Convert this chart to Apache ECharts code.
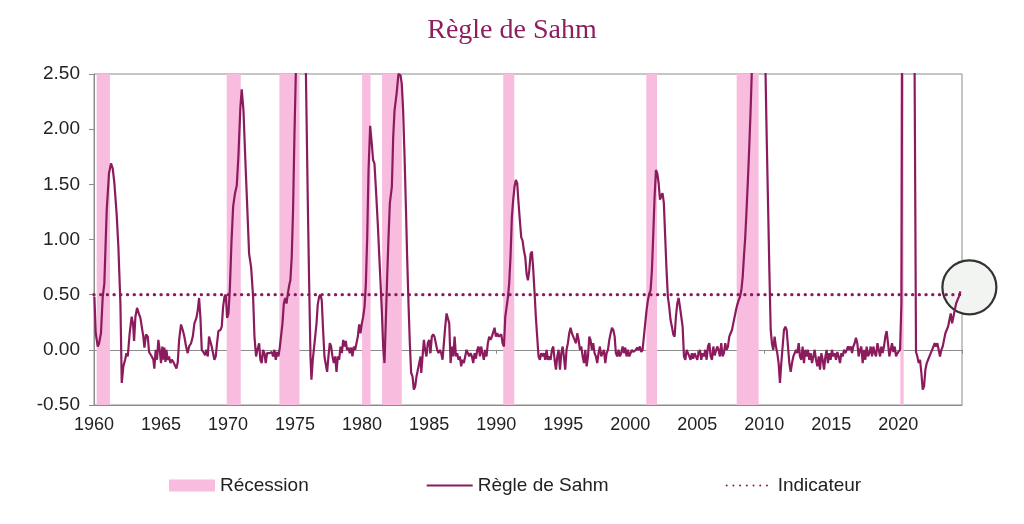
<!DOCTYPE html>
<html>
<head>
<meta charset="utf-8">
<script src="https://cdn.jsdelivr.net/npm/echarts@6/dist/echarts.min.js"></script>
<style>
  html, body { margin: 0; padding: 0; background: #fff; }
  #chart { width: 1024px; height: 524px; }
</style>
</head>
<body>
<div id="chart"></div>
<script>
// recession periods (decimal years)
const recStart = [1960.2, 1969.9, 1973.83, 1980.0, 1981.49, 1990.53, 2001.2, 2007.94, 2020.15];
const recEnd = [1961.19, 1970.95, 1975.33, 1980.63, 1982.96, 1991.35, 2002.0, 2009.58, 2020.4];

const threshold = 0.5;
const yTicks = { min: -0.5, max: 2.5, step: 0.5 };
const xTicks = { min: 1960, max: 2024.75, step: 5 };

// Sahm rule indicator, [decimal year, value]
const sahm = [
  [1960.03,0.48],[1960.13,0.15],[1960.28,0.03],[1960.38,0.06],[1960.52,0.15],[1960.65,0.48],[1960.77,0.60],[1960.95,1.27],
  [1961.12,1.60],[1961.27,1.69],[1961.40,1.64],[1961.52,1.51],[1961.69,1.23],[1961.82,0.93],[1961.97,0.42],[1962.07,-0.30],
  [1962.19,-0.15],[1962.32,-0.09],[1962.42,-0.03],[1962.52,-0.06],[1962.66,0.15],[1962.81,0.30],[1962.91,0.24],[1962.99,0.08],
  [1963.09,0.30],[1963.21,0.38],[1963.34,0.33],[1963.46,0.29],[1963.56,0.30],[1963.68,0.12],[1963.76,0.02],[1963.88,0.14],
  [1964.01,0.12],[1964.11,-0.02],[1964.21,-0.03],[1964.31,-0.06],[1964.43,-0.09],[1964.50,-0.17],[1964.60,0.00],[1964.70,-0.09],
  [1964.80,0.09],[1964.90,0.00],[1965.00,-0.12],[1965.10,0.03],[1965.18,-0.09],[1965.25,0.02],[1965.33,-0.11],[1965.40,0.00],
  [1965.50,-0.09],[1965.60,-0.06],[1965.70,-0.12],[1965.80,-0.09],[1965.92,-0.11],[1966.05,-0.12],[1966.15,-0.17],[1966.25,-0.11],
  [1966.35,0.09],[1966.49,0.23],[1966.62,0.18],[1966.74,0.12],[1966.87,0.03],[1966.99,-0.03],[1967.09,0.03],[1967.24,0.06],
  [1967.37,0.12],[1967.49,0.24],[1967.64,0.29],[1967.74,0.36],[1967.84,0.47],[1967.94,0.29],[1968.04,0.00],[1968.16,-0.02],
  [1968.29,-0.05],[1968.38,0.00],[1968.49,-0.06],[1968.58,0.12],[1968.68,0.11],[1968.78,0.03],[1968.88,-0.03],[1968.98,-0.09],
  [1969.08,-0.06],[1969.18,0.06],[1969.28,0.17],[1969.43,0.18],[1969.53,0.21],[1969.63,0.39],[1969.73,0.48],[1969.83,0.50],
  [1969.93,0.29],[1970.03,0.33],[1970.13,0.54],[1970.25,0.96],[1970.38,1.30],[1970.52,1.42],[1970.65,1.49],[1970.77,1.75],
  [1970.92,2.20],[1971.02,2.36],[1971.15,2.17],[1971.27,1.78],[1971.42,1.33],[1971.57,0.87],[1971.72,0.75],[1971.87,0.48],
  [1971.97,0.12],[1972.09,-0.06],[1972.19,0.00],[1972.32,0.06],[1972.41,-0.09],[1972.51,-0.12],[1972.61,0.00],[1972.71,-0.03],
  [1972.81,-0.12],[1972.91,-0.03],
  [1973.11,-0.03],[1973.26,-0.02],[1973.36,-0.06],[1973.46,0.00],[1973.56,-0.09],[1973.66,-0.02],[1973.76,-0.06],[1973.86,0.02],
  [1973.96,0.03],[1974.06,0.24],[1974.16,0.42],[1974.26,0.47],[1974.36,0.42],[1974.46,0.51],[1974.57,0.59],[1974.65,0.63],
  [1974.75,0.84],[1974.85,1.27],[1974.95,1.93],[1975.2,3.3],[1975.45,3.9],[1975.7,3.4],[1975.95,1.33],[1976.05,0.60],
  [1976.15,-0.06],[1976.22,-0.27],[1976.32,-0.09],[1976.40,-0.09],[1976.50,0.12],[1976.60,0.24],[1976.69,0.41],[1976.79,0.48],
  [1976.89,0.50],[1976.99,0.45],[1977.09,0.18],[1977.19,-0.06],[1977.29,-0.06],[1977.39,-0.20],[1977.49,-0.06],[1977.59,0.06],
  [1977.69,0.03],[1977.79,-0.06],[1977.89,-0.12],[1977.99,-0.06],[1978.09,-0.20],[1978.19,-0.06],[1978.29,-0.09],[1978.39,0.03],
  [1978.49,-0.03],[1978.59,0.09],[1978.68,0.03],[1978.78,0.08],[1978.88,0.00],[1978.98,0.02],[1979.08,-0.03],[1979.18,0.02],
  [1979.28,-0.06],[1979.38,0.03],[1979.48,0.00],[1979.58,0.06],[1979.68,0.12],[1979.78,0.23],[1979.88,0.15],[1979.98,0.24],
  [1980.08,0.30],[1980.18,0.39],[1980.28,0.60],[1980.38,1.02],[1980.48,1.63],[1980.60,2.03],[1980.72,1.87],[1980.82,1.72],
  [1980.92,1.69],[1981.02,1.48],[1981.17,1.14],[1981.32,0.75],[1981.47,0.36],[1981.57,0.03],[1981.67,-0.12],[1981.77,0.27],
  [1981.87,0.66],[1981.97,1.02],[1982.07,1.33],[1982.22,1.48],[1982.32,1.93],[1982.42,2.17],[1982.57,2.32],[1982.71,2.50],
  [1982.86,2.49],[1982.96,2.41],[1983.06,2.17],[1983.16,1.78],[1983.26,1.33],[1983.36,0.84],[1983.46,0.42],[1983.56,0.06],
  [1983.66,-0.21],[1983.76,-0.24],[1983.86,-0.36],[1983.96,-0.33],[1984.06,-0.24],[1984.16,-0.18],[1984.26,-0.12],[1984.36,-0.06],
  [1984.41,-0.21],[1984.51,-0.06],[1984.61,0.09],[1984.70,0.00],[1984.80,-0.06],[1984.90,0.06],[1985.00,0.09],[1985.10,-0.03],
  [1985.20,0.12],[1985.30,0.14],[1985.40,0.12],[1985.50,0.12],[1985.60,0.00],[1985.70,-0.03],[1985.80,0.00],[1985.90,-0.03],
  [1986.00,-0.09],
  [1986.20,0.21],[1986.30,0.33],[1986.40,0.32],[1986.50,0.24],[1986.60,-0.12],[1986.70,0.03],[1986.80,-0.06],[1986.90,0.12],
  [1987.00,-0.06],[1987.09,-0.03],[1987.19,-0.09],[1987.29,-0.06],[1987.39,-0.15],[1987.49,-0.09],[1987.59,-0.12],[1987.69,-0.06],
  [1987.79,0.00],[1987.89,-0.03],[1987.99,-0.06],[1988.09,-0.03],[1988.19,-0.06],[1988.29,-0.12],[1988.39,-0.03],[1988.49,-0.08],
  [1988.59,0.00],[1988.69,0.03],[1988.79,-0.06],[1988.88,0.03],[1988.98,-0.03],[1989.08,-0.09],[1989.18,0.00],[1989.28,-0.06],
  [1989.38,0.06],[1989.48,0.12],[1989.58,0.09],[1989.68,0.12],[1989.78,0.12],[1989.88,0.20],[1989.98,0.12],[1990.08,0.15],
  [1990.18,0.12],[1990.28,0.12],[1990.38,0.14],[1990.48,0.06],[1990.58,0.03],[1990.68,0.30],[1990.78,0.39],[1990.88,0.48],
  [1990.97,0.60],[1991.07,0.84],[1991.17,1.20],[1991.27,1.36],[1991.37,1.48],[1991.47,1.54],[1991.57,1.51],[1991.67,1.33],
  [1991.77,1.17],[1991.87,1.02],[1991.97,0.99],[1992.07,0.90],[1992.17,0.84],[1992.27,0.69],[1992.37,0.63],[1992.47,0.72],
  [1992.57,0.87],[1992.67,0.89],[1992.77,0.72],[1992.87,0.51],[1992.96,0.30],[1993.06,0.12],[1993.16,-0.06],[1993.26,-0.09],
  [1993.36,-0.03],[1993.46,-0.06],[1993.56,-0.03],[1993.66,-0.09],[1993.76,0.00],[1993.86,-0.09],[1993.96,-0.06],[1994.06,-0.09],
  [1994.16,0.00],[1994.26,0.03],[1994.36,-0.09],[1994.46,-0.18],[1994.56,-0.06],[1994.66,0.00],[1994.76,-0.18],[1994.86,-0.03],
  [1994.96,0.03],[1995.05,-0.06],[1995.15,-0.18],[1995.25,0.00],[1995.35,0.06],[1995.45,0.15],[1995.55,0.20],[1995.65,0.15],
  [1995.75,0.12],[1995.85,0.09],[1995.95,0.06],[1996.05,0.15],[1996.15,0.09],[1996.25,0.00],[1996.35,0.03],[1996.45,-0.06],
  [1996.55,-0.12],[1996.65,0.00],[1996.75,-0.15],[1996.85,-0.06],[1996.95,0.12],[1997.04,0.09],[1997.14,0.00],[1997.24,0.06],
  [1997.34,-0.03],[1997.44,-0.06],[1997.54,-0.12],[1997.64,-0.03],[1997.74,0.03],[1997.84,-0.06],[1997.94,-0.03],[1998.04,0.00],
  [1998.14,-0.12],[1998.24,-0.03],[1998.34,0.00],[1998.44,0.09],[1998.54,0.15],[1998.64,0.20],[1998.74,0.18],[1998.84,0.12],
  [1998.93,-0.03],[1999.03,-0.06],[1999.13,0.00],[1999.23,-0.06],[1999.33,-0.03],
  [1999.43,0.03],[1999.53,-0.03],[1999.63,0.02],[1999.73,-0.06],[1999.83,0.00],[1999.93,-0.06],[2000.03,-0.03],[2000.13,0.00],
  [2000.23,-0.02],[2000.33,-0.03],[2000.42,0.00],[2000.52,0.02],[2000.62,0.00],[2000.72,0.03],[2000.82,-0.02],[2000.92,0.00],
  [2001.02,0.12],[2001.12,0.24],[2001.22,0.36],[2001.32,0.45],[2001.42,0.51],[2001.52,0.54],[2001.62,0.72],[2001.72,1.05],
  [2001.82,1.39],[2001.92,1.63],[2002.02,1.60],[2002.12,1.51],[2002.22,1.36],[2002.32,1.40],[2002.41,1.42],[2002.51,1.33],
  [2002.61,1.02],[2002.71,0.72],[2002.81,0.48],[2002.91,0.39],[2003.01,0.27],[2003.11,0.21],[2003.21,0.14],[2003.31,0.12],
  [2003.41,0.30],[2003.51,0.42],[2003.61,0.47],[2003.71,0.39],[2003.81,0.30],[2003.91,0.21],[2004.01,-0.06],[2004.11,-0.09],
  [2004.21,0.00],[2004.31,-0.03],[2004.41,-0.06],[2004.50,-0.09],[2004.60,-0.03],[2004.70,-0.08],[2004.80,-0.03],[2004.90,-0.06],
  [2005.00,-0.09],[2005.10,-0.03],[2005.20,0.00],[2005.30,-0.09],[2005.40,-0.03],[2005.50,-0.06],[2005.60,0.00],[2005.70,-0.09],
  [2005.80,0.03],[2005.90,0.06],[2006.00,-0.06],[2006.10,-0.09],[2006.20,0.03],[2006.30,-0.05],[2006.40,-0.06],[2006.49,0.03],
  [2006.59,0.00],[2006.69,-0.06],[2006.79,0.06],[2006.89,-0.06],[2006.99,-0.03],[2007.09,0.06],[2007.19,0.00],[2007.29,0.03],
  [2007.39,0.12],[2007.49,0.15],[2007.59,0.18],[2007.69,0.24],[2007.79,0.30],[2007.89,0.36],[2007.99,0.41],[2008.09,0.45],
  [2008.19,0.48],[2008.29,0.54],[2008.39,0.66],[2008.48,0.84],[2008.58,1.02],[2008.68,1.27],[2008.78,1.54],[2008.88,1.84],
  [2008.98,2.17],[2009.3,3.4],[2009.6,4.0],[2009.9,3.8],[2010.18,1.93],[2010.28,1.33],[2010.38,0.72],[2010.48,0.18],
  [2010.57,0.06],[2010.67,0.00],[2010.77,0.12],[2010.87,0.03],[2010.97,-0.03],[2011.07,-0.12],[2011.17,-0.30],[2011.27,-0.12],
  [2011.37,0.03],[2011.47,0.18],[2011.57,0.21],[2011.67,0.18],[2011.77,0.03],[2011.87,-0.12],[2011.97,-0.20],[2012.07,-0.12],
  [2012.17,-0.06],[2012.27,-0.03],[2012.37,0.00],[2012.46,-0.03],
  [2012.57,0.06],[2012.66,-0.06],[2012.76,-0.09],[2012.86,0.03],[2012.96,-0.12],[2013.06,0.00],[2013.16,-0.06],[2013.26,0.00],
  [2013.36,-0.09],[2013.46,-0.03],[2013.56,-0.12],[2013.66,-0.06],[2013.76,0.00],[2013.86,-0.09],[2013.96,-0.15],[2014.06,-0.06],
  [2014.16,-0.18],[2014.26,-0.03],[2014.36,-0.09],[2014.46,-0.18],[2014.56,-0.06],[2014.65,0.00],[2014.75,-0.12],[2014.85,-0.03],
  [2014.95,-0.09],[2015.05,0.00],[2015.15,-0.06],[2015.25,-0.03],[2015.35,-0.09],[2015.45,-0.02],[2015.55,-0.06],[2015.65,-0.12],
  [2015.75,-0.03],[2015.85,-0.06],[2015.95,0.00],[2016.05,-0.03],[2016.15,0.00],[2016.25,0.03],[2016.35,0.00],[2016.45,0.03],
  [2016.55,-0.03],[2016.64,0.03],[2016.74,0.06],[2016.84,0.11],[2016.94,0.06],[2017.04,-0.06],[2017.14,0.00],[2017.24,0.03],
  [2017.34,-0.12],[2017.44,0.00],[2017.54,-0.09],[2017.64,0.03],[2017.74,-0.06],[2017.84,-0.03],[2017.94,0.03],[2018.04,-0.06],
  [2018.14,0.03],[2018.24,-0.03],[2018.34,-0.06],[2018.44,0.06],[2018.54,0.00],[2018.64,-0.06],[2018.73,0.03],[2018.83,-0.03],
  [2018.93,0.03],[2019.03,0.12],[2019.13,0.17],[2019.23,0.06],[2019.33,-0.06],[2019.43,0.00],[2019.53,0.06],[2019.63,-0.02],
  [2019.73,0.03],[2019.83,-0.06],[2019.93,-0.03],[2020.03,-0.03],[2020.13,0.00],
  [2020.23,0.42],[2020.33,4.7],[2020.45,9.4],[2020.7,8.6],[2020.95,6.7],[2021.15,4.1],[2021.32,-0.02],
  [2021.42,-0.06],[2021.52,-0.12],[2021.62,-0.09],[2021.72,-0.21],[2021.82,-0.36],[2021.92,-0.33],[2022.02,-0.18],[2022.12,-0.12],
  [2022.22,-0.09],[2022.32,-0.06],[2022.42,-0.03],[2022.52,0.00],[2022.62,0.03],[2022.71,0.06],[2022.81,0.03],[2022.91,0.06],
  [2023.01,0.00],[2023.11,-0.06],[2023.21,0.00],[2023.31,0.03],[2023.41,0.09],[2023.51,0.15],[2023.61,0.18],[2023.71,0.21],
  [2023.81,0.27],[2023.91,0.33],[2024.01,0.24],[2024.11,0.30],[2024.21,0.36],[2024.31,0.42],[2024.41,0.45],[2024.51,0.48],
  [2024.63,0.53]
];

const magenta = "#8C1B5E";
const pink = "#F8BCDF";
const grey = "#8C8C8C";
const font = "'Liberation Sans', Arial, sans-serif";

const lastPoint = sahm[sahm.length - 1];
const indicator = [[xTicks.min, threshold], [lastPoint[0], threshold]];

const myChart = echarts.init(document.getElementById("chart"));

const options = {
  animation: false,
  title: {
    text: "Règle de Sahm",
    left: "center",
    top: 12,
    textStyle: {
      fontFamily: "'Liberation Serif', 'Times New Roman', serif",
      fontSize: 28,
      fontWeight: "normal",
      color: "#8E1F5F",
    },
  },
  legend: {
    bottom: 24,
    left: 164,
    itemGap: 117,
    itemWidth: 46,
    itemHeight: 12,
    textStyle: { fontFamily: font, fontSize: 19, color: "#222" },
    data: [
      { name: "Récession", icon: "rect" },
      { name: "Règle de Sahm", itemStyle: { opacity: 0 } },
      { name: "Indicateur", itemStyle: { opacity: 0 } },
    ],
  },
  grid: {
    left: 94,
    right: 62,
    top: 74,
    bottom: 119,
    show: true,
    borderColor: grey,
    borderWidth: 1,
  },
  xAxis: [
    {
      type: "value",
      min: xTicks.min,
      max: xTicks.max,
      interval: xTicks.step,
      position: "bottom",
      axisLine: { onZero: false, lineStyle: { color: grey } },
      axisTick: { show: false },
      splitLine: { show: false },
      axisLabel: {
        margin: 11,
        fontFamily: font,
        fontSize: 18,
        color: "#222",
        showMaxLabel: false,
        formatter: (v) => (v % 5 === 0 ? String(v) : ""),
      },
    },
    {
      // zero line with its ticks
      type: "value",
      min: xTicks.min,
      max: xTicks.max,
      interval: xTicks.step,
      position: "top",
      axisLine: { onZero: true, lineStyle: { color: grey } },
      axisTick: { show: true, inside: true, length: 4, lineStyle: { color: grey } },
      axisLabel: { show: false },
      splitLine: { show: false },
    },
  ],
  yAxis: {
    type: "value",
    min: yTicks.min,
    max: yTicks.max,
    interval: yTicks.step,
    axisLine: { show: true, onZero: false, lineStyle: { color: grey } },
    axisTick: { show: true, length: 5, lineStyle: { color: grey } },
    splitLine: { show: false },
    axisLabel: {
      margin: 14,
      fontFamily: font,
      fontSize: 19,
      color: "#222",
      formatter: (v) => v.toFixed(2),
    },
  },
  series: [
    {
      name: "Récession",
      type: "line",
      data: [],
      color: pink,
      itemStyle: { color: pink },
      markArea: {
        silent: true,
        itemStyle: { color: pink, opacity: 1 },
        data: recStart.map((s, i) => [{ xAxis: s }, { xAxis: recEnd[i] }]),
      },
    },
    {
      // highlight circle on the latest reading, under the lines
      name: "dernier point",
      type: "scatter",
      data: [lastPoint],
      z: 1,
      clip: false,
      silent: true,
      symbol: "circle",
      symbolSize: 54,
      symbolOffset: [9, -4],
      itemStyle: { color: "#F2F4F2", borderColor: "#333", borderWidth: 2.2, opacity: 1 },
    },
    {
      name: "Règle de Sahm",
      type: "line",
      data: sahm,
      symbol: "none",
      z: 5,
      color: magenta,
      lineStyle: { color: magenta, width: 2.2 },
    },
    {
      name: "Indicateur",
      type: "line",
      data: indicator,
      symbol: "none",
      z: 5,
      color: magenta,
      lineStyle: { color: magenta, width: 3.4, type: [0.01, 6.7], cap: "round" },
    },
  ],
};

myChart.setOption(options);
</script>
</body>
</html>
